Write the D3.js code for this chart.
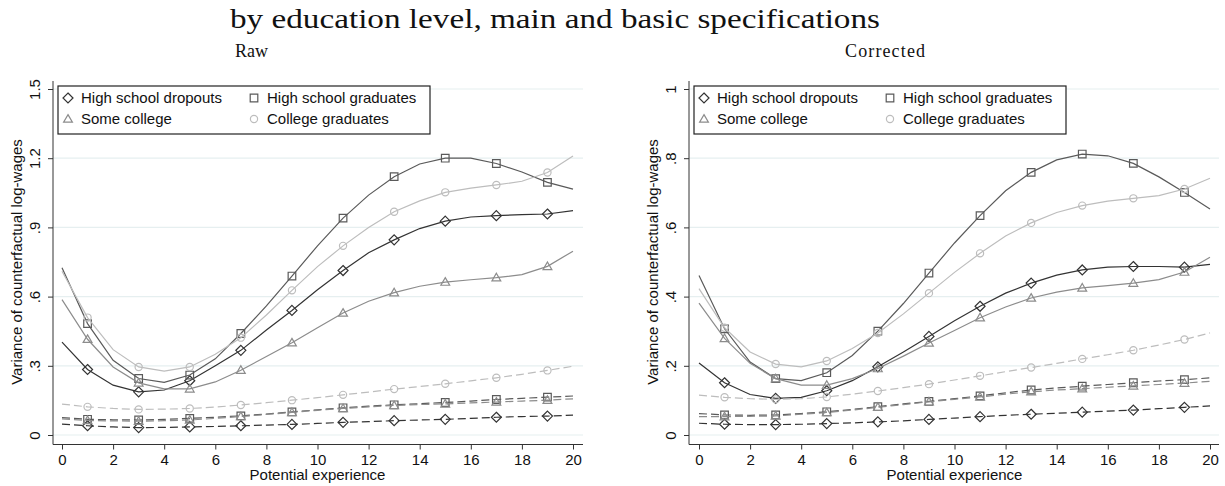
<!DOCTYPE html>
<html>
<head>
<meta charset="utf-8">
<script src="https://cdn.jsdelivr.net/npm/d3@7"></script>
<style>
  body { margin: 0; background: #fff; }
  svg text { font-family: "Liberation Sans", Arial, sans-serif; fill: #111; }
  svg text.serif { font-family: "Liberation Serif", "DejaVu Serif", serif; }
</style>
</head>
<body>
<div id="chart"></div>
<script>
// potential experience (x) and the years that get a marker
var experience = [0, 1, 2, 3, 4, 5, 6, 7, 8, 9, 10, 11, 12, 13, 14, 15, 16, 17, 18, 19, 20];
var markerYears = [1, 3, 5, 7, 9, 11, 13, 15, 17, 19];
var xTicks = [0, 2, 4, 6, 8, 10, 12, 14, 16, 18, 20];

var groupNames = ["High school dropouts", "High school graduates", "Some college", "College graduates"];

// Raw - main specification (solid)
var rawDropouts = [0.403, 0.284, 0.216, 0.187, 0.195, 0.235, 0.300, 0.367, 0.455, 0.540, 0.630, 0.713, 0.790, 0.846, 0.895, 0.927, 0.945, 0.951, 0.955, 0.958, 0.973];
var rawHSGrads  = [0.725, 0.483, 0.324, 0.245, 0.228, 0.260, 0.330, 0.440, 0.560, 0.689, 0.820, 0.940, 1.040, 1.120, 1.175, 1.200, 1.200, 1.177, 1.140, 1.095, 1.066];
var rawSomeCol  = [0.587, 0.415, 0.295, 0.226, 0.200, 0.200, 0.230, 0.281, 0.340, 0.400, 0.465, 0.529, 0.580, 0.617, 0.645, 0.663, 0.673, 0.682, 0.695, 0.731, 0.797];
var rawColGrads = [0.710, 0.509, 0.370, 0.295, 0.277, 0.295, 0.350, 0.422, 0.520, 0.627, 0.730, 0.820, 0.900, 0.968, 1.015, 1.052, 1.070, 1.084, 1.100, 1.138, 1.210];

// Raw - basic specification (dashed)
var rawDropoutsB = [0.047, 0.040, 0.035, 0.032, 0.033, 0.035, 0.037, 0.040, 0.043, 0.046, 0.050, 0.055, 0.058, 0.062, 0.065, 0.068, 0.072, 0.077, 0.080, 0.082, 0.086];
var rawHSGradsB  = [0.075, 0.068, 0.066, 0.065, 0.068, 0.072, 0.077, 0.083, 0.091, 0.100, 0.109, 0.118, 0.125, 0.131, 0.136, 0.141, 0.147, 0.154, 0.159, 0.164, 0.169];
var rawSomeColB  = [0.070, 0.063, 0.061, 0.060, 0.062, 0.065, 0.072, 0.080, 0.089, 0.098, 0.107, 0.115, 0.122, 0.128, 0.132, 0.135, 0.139, 0.143, 0.147, 0.151, 0.157];
var rawColGradsB = [0.134, 0.122, 0.115, 0.111, 0.112, 0.115, 0.121, 0.130, 0.140, 0.151, 0.162, 0.174, 0.186, 0.199, 0.210, 0.222, 0.235, 0.248, 0.263, 0.280, 0.298];

// Corrected - main specification (solid)
var corDropouts = [0.208, 0.151, 0.117, 0.106, 0.109, 0.128, 0.157, 0.197, 0.240, 0.285, 0.330, 0.372, 0.410, 0.439, 0.462, 0.477, 0.485, 0.487, 0.487, 0.485, 0.493];
var corHSGrads  = [0.461, 0.307, 0.211, 0.163, 0.157, 0.180, 0.230, 0.300, 0.380, 0.468, 0.555, 0.634, 0.706, 0.759, 0.795, 0.812, 0.807, 0.785, 0.746, 0.701, 0.653];
var corSomeCol  = [0.381, 0.279, 0.207, 0.163, 0.144, 0.144, 0.163, 0.192, 0.228, 0.266, 0.302, 0.339, 0.370, 0.396, 0.413, 0.425, 0.432, 0.439, 0.449, 0.471, 0.514];
var corColGrads = [0.423, 0.310, 0.240, 0.205, 0.197, 0.214, 0.250, 0.295, 0.350, 0.410, 0.470, 0.525, 0.575, 0.613, 0.643, 0.663, 0.676, 0.684, 0.692, 0.711, 0.742];

// Corrected - basic specification (dashed)
var corDropoutsB = [0.034, 0.031, 0.030, 0.030, 0.031, 0.033, 0.035, 0.038, 0.041, 0.045, 0.049, 0.053, 0.057, 0.060, 0.063, 0.066, 0.069, 0.072, 0.076, 0.080, 0.084];
var corHSGradsB  = [0.062, 0.058, 0.057, 0.058, 0.062, 0.067, 0.074, 0.082, 0.090, 0.097, 0.105, 0.113, 0.122, 0.130, 0.136, 0.141, 0.146, 0.151, 0.156, 0.160, 0.165];
var corSomeColB  = [0.053, 0.053, 0.054, 0.055, 0.060, 0.065, 0.072, 0.080, 0.088, 0.096, 0.103, 0.110, 0.118, 0.125, 0.130, 0.134, 0.138, 0.142, 0.146, 0.150, 0.155];
var corColGradsB = [0.115, 0.109, 0.105, 0.103, 0.105, 0.110, 0.118, 0.127, 0.137, 0.147, 0.159, 0.171, 0.183, 0.195, 0.207, 0.220, 0.232, 0.245, 0.260, 0.276, 0.295];

var rawYTicks = [0, 0.3, 0.6, 0.9, 1.2, 1.5];
var corYTicks = [0, 0.2, 0.4, 0.6, 0.8, 1];

var colors = ["#333333", "#5a5a5a", "#8c8c8c", "#bdbdbd"];
var shapes = ["diamond", "square", "triangle", "circle"];

var svgWidth = 1225;
var svgHeight = 486;

var svg = d3.select("#chart")
  .append("svg")
  .attr("width", svgWidth)
  .attr("height", svgHeight);

// title + panel titles
svg.append("text")
  .attr("class", "serif")
  .attr("x", 230)
  .attr("y", 28)
  .attr("font-size", 28)
  .attr("textLength", 650)
  .attr("lengthAdjust", "spacingAndGlyphs")
  .text("by education level, main and basic specifications");

svg.append("text")
  .attr("class", "serif")
  .attr("x", 235)
  .attr("y", 57)
  .attr("font-size", 18)
  .attr("textLength", 33)
  .text("Raw");

svg.append("text")
  .attr("class", "serif")
  .attr("x", 845)
  .attr("y", 57)
  .attr("font-size", 18)
  .attr("textLength", 80)
  .text("Corrected");

function markerPath(shape) {
  if (shape === "diamond") return "M0,-5L5,0L0,5L-5,0Z";
  if (shape === "square") return "M-3.8,-3.8H3.8V3.8H-3.8Z";
  if (shape === "triangle") return "M0,-4.4L4.4,3.2H-4.4Z";
  return "M3.6,0A3.6,3.6 0 1,1 -3.6,0A3.6,3.6 0 1,1 3.6,0Z";
}

var tickFormat = function(d) {
  return d3.format("~g")(d).replace(/^0\./, ".");
};

function drawPanel(p) {
  var g = svg.append("g");

  var xScale = d3.scaleLinear().domain([0, 20]).range([p.x0, p.x0 + 511]);
  var yScale = d3.scaleLinear().domain(p.yDomain).range([435, 89]);

  // horizontal grid
  g.selectAll("line.grid")
    .data(p.yTicks)
    .enter()
    .append("line")
    .attr("class", "grid")
    .attr("x1", p.axisX)
    .attr("x2", p.right)
    .attr("y1", d => yScale(d))
    .attr("y2", d => yScale(d))
    .attr("stroke", "#e6eff0")
    .attr("stroke-width", 1.2);

  var line = d3.line()
    .x((d, i) => xScale(experience[i]))
    .y(d => yScale(d));

  p.series.forEach(function(s) {
    g.append("path")
      .datum(s.values)
      .attr("d", line)
      .attr("fill", "none")
      .attr("stroke", colors[s.group])
      .attr("stroke-width", 1.2)
      .attr("stroke-dasharray", s.dashed ? "8,4" : null);

    g.selectAll(null)
      .data(markerYears)
      .enter()
      .append("path")
      .attr("d", markerPath(shapes[s.group]))
      .attr("transform", d => `translate(${xScale(d)},${yScale(s.values[experience.indexOf(d)])})`)
      .attr("fill", "none")
      .attr("stroke", colors[s.group])
      .attr("stroke-width", 1.2);
  });

  // y axis
  var yAxis = g.append("g")
    .attr("transform", `translate(${p.axisX},0)`)
    .call(d3.axisLeft(yScale).tickValues(p.yTicks).tickSize(5).tickFormat(tickFormat));
  yAxis.select(".domain").remove();
  yAxis.selectAll("line").attr("stroke", "#333");
  yAxis.selectAll("text")
    .attr("x", null)
    .attr("dy", null)
    .attr("transform", "translate(-13.5,0) rotate(-90)")
    .attr("text-anchor", "middle")
    .attr("font-size", 15)
    .attr("fill", "#111");

  g.append("line")
    .attr("x1", p.axisX).attr("x2", p.axisX)
    .attr("y1", 81).attr("y2", 444.5)
    .attr("stroke", "#333");

  // x axis
  var xAxis = g.append("g")
    .attr("transform", "translate(0,444.5)")
    .call(d3.axisBottom(xScale).tickValues(xTicks).tickSize(5).tickPadding(5));
  xAxis.select(".domain").remove();
  xAxis.selectAll("line").attr("stroke", "#333");
  xAxis.selectAll("text")
    .attr("font-size", 15)
    .attr("fill", "#111");

  g.append("line")
    .attr("x1", p.axisX).attr("x2", p.right)
    .attr("y1", 444.5).attr("y2", 444.5)
    .attr("stroke", "#333");

  // axis titles
  g.append("text")
    .attr("transform", `translate(${p.axisX - 31},262) rotate(-90)`)
    .attr("text-anchor", "middle")
    .attr("font-size", 15)
    .text("Variance of counterfactual log-wages");

  g.append("text")
    .attr("x", (p.x0 + p.x0 + 511) / 2)
    .attr("y", 480)
    .attr("text-anchor", "middle")
    .attr("font-size", 15)
    .text("Potential experience");

  // legend
  var lx = p.axisX + 5;
  g.append("rect")
    .attr("x", lx)
    .attr("y", 86)
    .attr("width", 372)
    .attr("height", 48)
    .attr("fill", "#fff")
    .attr("stroke", "#222")
    .attr("stroke-width", 1.2);

  var cols = [lx + 10, lx + 196];
  var rows = [103, 124];
  groupNames.forEach(function(name, i) {
    var cx = cols[i % 2];
    var cy = rows[Math.floor(i / 2)];
    g.append("path")
      .attr("d", markerPath(shapes[i]))
      .attr("transform", `translate(${cx},${cy - 5})`)
      .attr("fill", "none")
      .attr("stroke", colors[i])
      .attr("stroke-width", 1.2);
    g.append("text")
      .attr("x", cx + 13)
      .attr("y", cy)
      .attr("font-size", 15)
      .text(name);
  });
}

drawPanel({
  x0: 62, axisX: 53, right: 583,
  yDomain: [0, 1.5], yTicks: rawYTicks,
  series: [
    { group: 0, values: rawDropouts }, { group: 1, values: rawHSGrads },
    { group: 2, values: rawSomeCol }, { group: 3, values: rawColGrads },
    { group: 0, values: rawDropoutsB, dashed: true }, { group: 1, values: rawHSGradsB, dashed: true },
    { group: 2, values: rawSomeColB, dashed: true }, { group: 3, values: rawColGradsB, dashed: true }
  ]
});

drawPanel({
  x0: 699, axisX: 689, right: 1219,
  yDomain: [0, 1], yTicks: corYTicks,
  series: [
    { group: 0, values: corDropouts }, { group: 1, values: corHSGrads },
    { group: 2, values: corSomeCol }, { group: 3, values: corColGrads },
    { group: 0, values: corDropoutsB, dashed: true }, { group: 1, values: corHSGradsB, dashed: true },
    { group: 2, values: corSomeColB, dashed: true }, { group: 3, values: corColGradsB, dashed: true }
  ]
});
</script>
</body>
</html>
